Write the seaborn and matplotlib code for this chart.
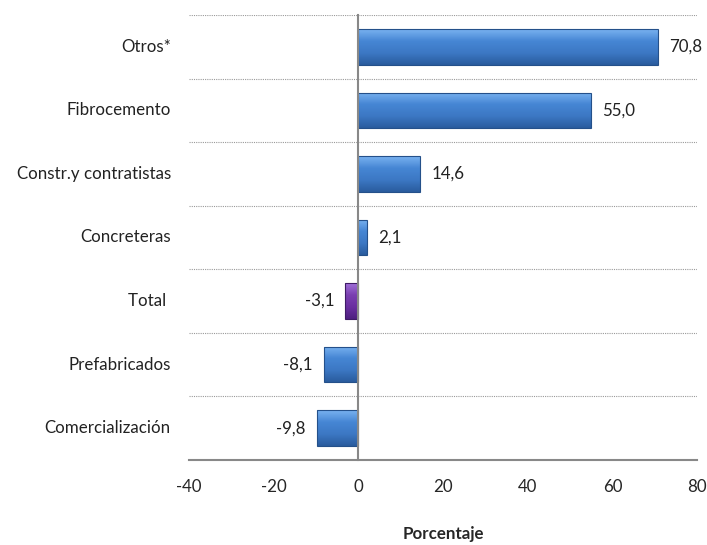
import numpy as np
import pandas as pd
import seaborn as sns
import matplotlib.pyplot as plt
from matplotlib.colors import LinearSegmentedColormap

categorias = ['Otros*', 'Fibrocemento', 'Constr.y contratistas', 'Concreteras',
              'Total ', 'Prefabricados', 'Comercialización']
valores = [70.8, 55.0, 14.6, 2.1, -3.1, -8.1, -9.8]
colores = ['#3F7DCB', '#3F7DCB', '#3F7DCB', '#3F7DCB', '#7A3FB0', '#3F7DCB', '#3F7DCB']
x_ticks = [-40, -20, 0, 20, 40, 60, 80]

sns.set_style('white')
plt.rcParams['font.family'] = ['Lato', 'DejaVu Sans']
label_fontsize = 12.2

df = pd.DataFrame({'categoria': categorias, 'valor': valores})

fig = plt.figure(figsize=(7.07, 5.45), dpi=100)
ax = fig.add_axes([0.2675, 0.156, 0.7185, 0.8165])

g1 = sns.barplot(data=df, x='valor', y='categoria', hue='categoria',
                 palette=colores, legend=False, width=0.56, ax=ax,
                 edgecolor='#24508A', linewidth=0.8)

# gradient fill like the excel bevel
for bar, col in zip(g1.patches, colores):
    if col == '#7A3FB0':
        cmap = LinearSegmentedColormap.from_list('p', ['#A070D8', '#7A3FB0', '#6A2FA0', '#4E2080'])
        bar.set_edgecolor('#3E1A66')
    else:
        cmap = LinearSegmentedColormap.from_list('b', ['#79B2F0', '#4686D4', '#3C78C4', '#2A5C9E'])
    x0, y0 = bar.get_x(), bar.get_y()
    w, h = bar.get_width(), bar.get_height()
    grad = np.linspace(0, 1, 64).reshape(-1, 1)
    im = ax.imshow(grad, cmap=cmap, aspect='auto', extent=[x0, x0 + w, y0, y0 + h],
                   origin='lower', zorder=bar.get_zorder() - 0.1)
    im.set_clip_path(bar)
    bar.set_facecolor('none')

for i, v in enumerate(valores):
    txt = f'{v:.1f}'.replace('.', ',')
    if v >= 0:
        ax.annotate(txt, (v, i), xytext=(8, 0), textcoords='offset points',
                    ha='left', va='center', fontsize=label_fontsize, color='#222222')
    else:
        ax.annotate(txt, (v, i), xytext=(-8, 0), textcoords='offset points',
                    ha='right', va='center', fontsize=label_fontsize, color='#222222')

ax.set_xlim(-40, 80)
ax.set_ylim(len(categorias) - 0.5, -0.5)
ax.set_xticks(x_ticks)
ax.set_xticklabels([str(t) for t in x_ticks], fontsize=label_fontsize)

# dotted separators between categories
bordes = np.arange(-0.5, len(categorias) - 0.4, 1)
for b in bordes[:-1]:
    ax.axhline(b, color='#9A9A9A', linestyle=(0, (1, 1)), linewidth=0.8, zorder=0)

ax.set_yticks(bordes)
ax.set_yticklabels([])
ax.tick_params(axis='y', length=5, width=1.2, color='#888888', direction='out')
ax.tick_params(axis='x', length=5, width=1.2, color='#888888', direction='out', pad=9)
for i, c in enumerate(categorias):
    ax.text(-0.036, i, c, transform=ax.get_yaxis_transform(), ha='right', va='center',
            fontsize=label_fontsize, color='#222222')

ax.spines['left'].set_position(('data', 0))
for s in ['left', 'bottom']:
    ax.spines[s].set_color('#888888')
    ax.spines[s].set_linewidth(1.5)
ax.spines['top'].set_visible(False)
ax.spines['right'].set_visible(False)

ax.set_ylabel('')
ax.set_xlabel('Porcentaje', fontsize=label_fontsize, fontweight='bold', labelpad=22)

plt.savefig('out.png', dpi=100)
plt.close()
